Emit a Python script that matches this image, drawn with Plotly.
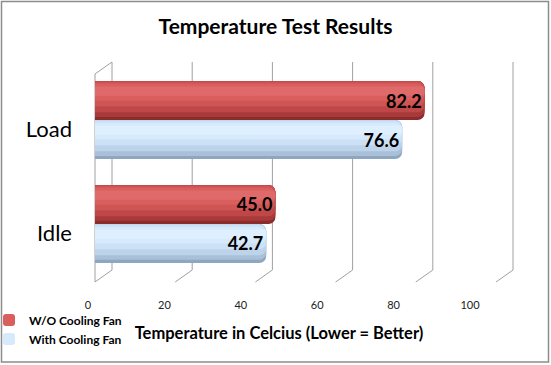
import plotly.graph_objects as go

# ---- data ----
categories = ["Idle", "Load"]
series_names = ["W/O Cooling Fan", "With Cooling Fan"]
wo_fan = [45.0, 82.2]
with_fan = [42.7, 76.6]
x_ticks = [0, 20, 40, 60, 80, 100]
x_tick_labels = ["0", "20", "40", "60", "80", "100"]
title_text = "Temperature Test Results"
x_title = "Temperature in Celcius (Lower = Better)"

# ---- styling ----
W, H = 551, 365
FONT = "Lato"
px_per_unit = 4.01
zero_px = 95
dom_left_px, dom_right_px = 93, 514
x_range = [(dom_left_px - zero_px) / px_per_unit, (dom_right_px - zero_px) / px_per_unit]
depth = 17 / px_per_unit          # perspective shift of back wall (data units)
top_px, bot_px = 62, 282
back_bottom = (bot_px - 270) / (bot_px - top_px)
front_top = (bot_px - 74) / (bot_px - top_px)
bar_w = 0.375
bar_px = 39

layers = [  # (lo, hi) fraction of bar thickness, red colour, blue colour
    (0.00, 1.00, "#8A2C2C", "#8EA6C0"),
    (0.08, 1.00, "#A83A3A", "#A9C0D8"),
    (0.20, 1.00, "#BF4747", "#BDD3EA"),
    (0.35, 0.98, "#CF5454", "#CCE1F5"),
    (0.50, 0.93, "#D95F5F", "#D6EAFC"),
    (0.62, 0.86, "#E06A6A", "#DEF0FF"),
]
legend_layer = 4
legend_ids = ["legend", "legend2"]
legend_y_px = [320, 339]

fig = go.Figure()
for s_idx, (name, vals) in enumerate([(series_names[0], wo_fan), (series_names[1], with_fan)]):
    base_off = 0.0 if s_idx == 0 else -bar_w
    for l_idx, (lo, hi, c_red, c_blue) in enumerate(layers):
        col = c_red if s_idx == 0 else c_blue
        r = min(7, (hi - lo) * bar_px / 2)
        fig.add_trace(go.Bar(
            x=vals, y=categories, orientation="h", name=name,
            offset=base_off + lo * bar_w, width=(hi - lo) * bar_w,
            marker=dict(color=col, line=dict(width=0), cornerradius=r),
            showlegend=(l_idx == legend_layer), legendgroup=name, legend=legend_ids[s_idx],
            hoverinfo="skip" if l_idx != 0 else None,
        ))
    fig.add_trace(go.Bar(
        x=vals, y=categories, orientation="h", name=name,
        offset=base_off, width=bar_w,
        marker=dict(color="rgba(0,0,0,0)", line=dict(width=0)),
        texttemplate="%{x:.1f}", textposition="inside", insidetextanchor="end",
        textfont=dict(family=FONT, size=18, color="black", weight="bold"),
        showlegend=False, legendgroup=name, legend=legend_ids[s_idx], hoverinfo="skip",
    ))

# dummy trace carrying the tick-label axis
fig.add_trace(go.Scatter(
    x=x_ticks, y=[categories[0]] * len(x_ticks), xaxis="x2", mode="markers",
    marker=dict(opacity=0), showlegend=False, hoverinfo="skip",
))

shapes = []
gl = dict(color="#A0A0A0", width=1)
for v in x_ticks:
    shapes.append(dict(type="line", xref="x", yref="y domain", x0=v + depth, x1=v + depth,
                       y0=back_bottom, y1=1, line=gl, layer="below"))
    shapes.append(dict(type="line", xref="x", yref="y domain", x0=v + depth, x1=v,
                       y0=back_bottom, y1=0, line=gl, layer="below"))
shapes.append(dict(type="line", xref="x", yref="y domain", x0=x_ticks[0], x1=x_ticks[0],
                   y0=0, y1=front_top, line=gl, layer="below"))
shapes.append(dict(type="line", xref="x", yref="y domain", x0=x_ticks[0], x1=x_ticks[0] + depth,
                   y0=front_top, y1=1, line=gl, layer="below"))
shapes.append(dict(type="rect", xref="paper", yref="paper", x0=1.5 / W, x1=1 - 2.5 / W,
                   y0=3 / H, y1=1 - 1.5 / H, line=dict(color="#8C8C8C", width=1.5)))

legend_common = dict(x=-11 / W, xanchor="left", yanchor="middle",
                     font=dict(family=FONT, size=12, color="black", weight="bold"),
                     bgcolor="rgba(0,0,0,0)", tracegroupgap=0)

fig.update_layout(
    width=W, height=H, margin=dict(l=0, r=0, t=0, b=0, autoexpand=False),
    paper_bgcolor="white", plot_bgcolor="rgba(0,0,0,0)",
    barmode="overlay",
    title=dict(text=title_text, x=0.5, xanchor="center", y=1 - 27 / H, yanchor="middle",
               font=dict(family=FONT, size=21, color="black", weight="bold")),
    xaxis=dict(domain=[dom_left_px / W, dom_right_px / W], range=x_range, automargin=False,
               showticklabels=False, showgrid=False, zeroline=False, showline=False),
    xaxis2=dict(domain=[88 / W, 470 / W], range=[0, 100], anchor="free",
                position=1 - 297 / H, automargin=False,
                tickvals=x_ticks, ticktext=x_tick_labels, ticks="",
                tickfont=dict(family=FONT, size=11, color="#222"),
                showgrid=False, zeroline=False, showline=False,
                title=dict(text=x_title, standoff=17,
                           font=dict(family=FONT, size=16.5, color="black", weight="bold"))),
    yaxis=dict(domain=[1 - bot_px / H, 1 - top_px / H], range=[-0.558, 1.558], automargin=False,
               type="category", categoryorder="array", categoryarray=categories,
               tickfont=dict(family=FONT, size=22, color="black"),
               ticklabelstandoff=20, ticklabelshift=9,
               showgrid=False, zeroline=False, showline=False, ticks=""),
    legend=dict(legend_common, y=1 - legend_y_px[0] / H),
    legend2=dict(legend_common, y=1 - legend_y_px[1] / H),
    shapes=shapes,
    showlegend=True,
)

fig.write_html(
    "out.html",
    config={"displayModeBar": False},
    post_script="document.body.style.margin='0';document.body.style.overflow='hidden';",
)
